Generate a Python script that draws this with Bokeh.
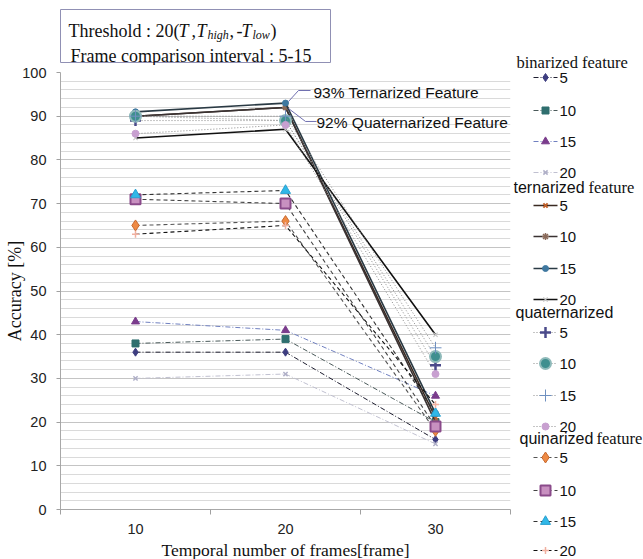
from bokeh.plotting import figure
from bokeh.models import Range1d, FixedTicker, SingleIntervalTicker, Label
from bokeh.layouts import row, column
from bokeh.embed import file_html
from bokeh.resources import INLINE
from bokeh.core.properties import value

# ---------------- data ----------------
frames = ["10", "20", "30"]
bin5 = [36, 36, 16]
bin10 = [38, 39, 20]
bin15 = [43, 41, 26]
bin20 = [30, 31, 15]
ter5 = [90, 92, 21]
ter10 = [90, 92, 20]
ter15 = [91, 93, 22]
ter20 = [85, 87, 40]
qua5 = [89, 89, 33]
qua10 = [90, 89, 35]
qua15 = [90, 90, 37]
qua20 = [86, 88, 31]
qui5 = [65, 66, 18]
qui10 = [71, 70, 19]
qui15 = [72, 73, 22]
qui20 = [63, 65, 24]
interval_labels = ["5", "10", "15", "20"]
ann_values = [93, 92]
ann_names = ["Ternarized Feature", "Quaternarized Feature"]
x_title = "Temporal number of frames[frame]"
y_title = "Accuracy [%]"

# ---------------- styles ----------------
DD = "5 2 1 2"
DOT = "1 2"
DSH = "4 3"
groups = [
    [  # binarized
        dict(y=bin5, lc="#1e1e30", lw=1, dash=DD, m="diamond", ms=8, mf="#3d3d80", ml="#3d3d80", mlw=1),
        dict(y=bin10, lc="#4a5a5a", lw=1, dash=DD, m="square", ms=7, mf="#2f6f6f", ml="#2f6f6f", mlw=1),
        dict(y=bin15, lc="#7080c0", lw=1, dash=DD, m="triangle", ms=8, mf="#7a3c8c", ml="#7a3c8c", mlw=1),
        dict(y=bin20, lc="#c0c0d0", lw=1, dash=DD, m="x", ms=6, mf="#b0b0c8", ml="#b0b0c8", mlw=1.5),
    ],
    [  # ternarized
        dict(y=ter5, lc="#3a2a22", lw=1.6, dash="solid", m="x", ms=6, mf="#c0602a", ml="#c0602a", mlw=2),
        dict(y=ter10, lc="#3a3232", lw=1.6, dash="solid", m="asterisk", ms=7, mf="#8a6a5a", ml="#8a6a5a", mlw=1.5),
        dict(y=ter15, lc="#2a3a44", lw=1.6, dash="solid", m="circle", ms=6, mf="#3f78a0", ml="#3f78a0", mlw=1),
        dict(y=ter20, lc="#111111", lw=1.6, dash="solid", m="x", ms=6, mf="#c8c8c8", ml="#c8c8c8", mlw=1.2),
    ],
    [  # quaternarized
        dict(y=qua5, lc="#8a8a8a", lw=1, dash=DOT, m="cross", ms=11, mf="#4a4a8a", ml="#4a4a8a", mlw=2.5),
        dict(y=qua10, lc="#8a8a8a", lw=1, dash=DOT, m="circle", ms=11, mf="#3f8f8f", ml="#8fbaba", mlw=2),
        dict(y=qua15, lc="#8a8a8a", lw=1, dash=DOT, m="cross", ms=12, mf="#6f90c0", ml="#6f90c0", mlw=1),
        dict(y=qua20, lc="#8a8a8a", lw=1, dash=DOT, m="circle", ms=7, mf="#c8a0d0", ml="#c8a0d0", mlw=1),
    ],
    [  # quinarized
        dict(y=qui5, lc="#555555", lw=1.1, dash=DSH, m="diamond", ms=11, mf="#ee8a44", ml="#c86a30", mlw=1),
        dict(y=qui10, lc="#444444", lw=1.1, dash=DSH, m="square", ms=10, mf="#c890c0", ml="#8a4a8a", mlw=2),
        dict(y=qui15, lc="#333333", lw=1.1, dash=DSH, m="triangle", ms=10, mf="#30b8e8", ml="#2aa0d0", mlw=1),
        dict(y=qui20, lc="#111111", lw=1.1, dash=DSH, m="cross", ms=7, mf="#f0b0a0", ml="#f0b0a0", mlw=1.5),
    ],
]

TOP_H = 65
LEFT_W = 513
TOTAL_W, TOTAL_H = 643, 559
PX_X = 150.0
PX_Y = 437.0 / 100.0


def bare(fig):
    fig.grid.visible = False
    fig.outline_line_color = None
    fig.background_fill_color = "white"
    fig.border_fill_color = "white"
    fig.frame_align = False


# ---------------- title box figure ----------------
top = figure(width=LEFT_W, height=TOP_H, x_range=Range1d(0, LEFT_W), y_range=Range1d(TOP_H, 0),
             output_backend="svg", toolbar_location=None, min_border=0,
             x_axis_location=None, y_axis_location=None)
bare(top)
top.quad(left=[60], right=[330], top=[9], bottom=[62], fill_color="white",
         line_color="#9090b4", line_width=1)


def ttext(t, x, y, size="18px", style="normal"):
    top.text(x=[x], y=[y], text=[t], text_font=value("Liberation Serif"),
             text_font_size=value(size), text_font_style=style,
             text_baseline="alphabetic", text_color="#111111")


ttext("Threshold : 20(", 68, 30)
ttext("T", 178, 30, style="italic")
ttext(",", 191, 30)
ttext("T", 196, 30, style="italic")
ttext("high", 207, 34, size="12px", style="italic")
ttext(",", 229, 30)
ttext("-", 236, 30)
ttext("T", 241, 30, style="italic")
ttext("low", 252, 34, size="12px", style="italic")
ttext(")", 270, 30)
ttext("Frame comparison interval : 5-15", 70, 55)

# ---------------- main figure ----------------
p = figure(frame_width=450, frame_height=437, x_range=Range1d(0, len(frames)), y_range=Range1d(0, 100),
           output_backend="svg", toolbar_location=None,
           min_border_left=60, min_border_right=3, min_border_top=7, min_border_bottom=50)
p.outline_line_color = None
p.background_fill_color = "white"
p.border_fill_color = "white"
p.frame_align = False

xs = [i + 0.5 for i in range(len(frames))]
p.xaxis.ticker = FixedTicker(ticks=xs, minor_ticks=list(range(len(frames) + 1)))
p.xaxis.major_label_overrides = {x: f for x, f in zip(xs, frames)}
p.xaxis.major_tick_out = 0
p.xaxis.major_tick_in = 0
p.xaxis.minor_tick_out = 5
p.xaxis.minor_tick_in = 0
p.xaxis.minor_tick_line_color = "#a0a0a0"
p.xaxis.major_label_standoff = 9
p.xaxis.axis_line_color = "#a8a8a8"
p.xaxis.major_label_text_font = "Liberation Sans"
p.xaxis.major_label_text_font_size = "14.5px"
p.xaxis.major_label_text_color = "#222222"
p.xaxis.axis_label = x_title
p.xaxis.axis_label_text_font = "Liberation Serif"
p.xaxis.axis_label_text_font_size = "17.5px"
p.xaxis.axis_label_text_font_style = "normal"
p.xaxis.axis_label_text_color = "#111111"
p.xaxis.axis_label_standoff = 3

p.yaxis.ticker = SingleIntervalTicker(interval=10, num_minor_ticks=5)
p.yaxis.major_tick_out = 4
p.yaxis.major_tick_in = 0
p.yaxis.minor_tick_line_color = None
p.yaxis.major_tick_line_color = "#a0a0a0"
p.yaxis.axis_line_color = "#a8a8a8"
p.yaxis.major_label_standoff = 10
p.yaxis.major_label_text_font = "Liberation Sans"
p.yaxis.major_label_text_font_size = "14.5px"
p.yaxis.major_label_text_color = "#222222"
p.yaxis.axis_label = y_title
p.yaxis.axis_label_text_font = "Liberation Serif"
p.yaxis.axis_label_text_font_size = "18px"
p.yaxis.axis_label_text_font_style = "normal"
p.yaxis.axis_label_text_color = "#111111"
p.yaxis.axis_label_standoff = -6

p.xgrid.visible = False
p.ygrid.grid_line_color = "#c4c4c4"
p.ygrid.minor_grid_line_color = "#dadada"

for g in groups:
    for s in g:
        p.line(xs, s["y"], line_color=s["lc"], line_width=s["lw"], line_dash=s["dash"])
        p.scatter(xs, s["y"], marker=s["m"], size=s["ms"], fill_color=s["mf"],
                  line_color=s["ml"], line_width=s["mlw"])

# callouts
callout_offsets = [
    dict(line=[(3, -1.6), (13, -12.6), (25, -12.6)], text=(28, -10.6)),
    dict(line=[(3, 1.0), (20, 14.0), (31, 14.0)], text=(31, 14.7)),
]
for v, name, c in zip(ann_values, ann_names, callout_offsets):
    lx = [xs[1] + dx / PX_X for dx, dy in c["line"]]
    ly = [v - dy / PX_Y for dx, dy in c["line"]]
    p.line(lx, ly, line_color="#6f6fb0", line_width=1)
    tx, ty = c["text"]
    p.add_layout(Label(x=xs[1], y=v, x_offset=tx, y_offset=-ty, text=f"{v}% {name}",
                       text_font="Liberation Sans", text_font_size="15.5px",
                       text_baseline="middle", text_color="#111111"))

# ---------------- legend figure ----------------
LW = TOTAL_W - LEFT_W
leg = figure(width=LW, height=TOTAL_H, x_range=Range1d(0, LW), y_range=Range1d(TOTAL_H, 0),
             output_backend="svg", toolbar_location=None, min_border=0,
             x_axis_location=None, y_axis_location=None)
bare(leg)

header_y = [62, 187, 312, 438]
entry_y = [[77, 110, 141, 172], [205, 236, 268, 299], [332, 363, 395, 426], [457, 490, 521, 550]]
sans_part = [None, "ternarized", "quaternarized", "quinarized"]
sans_x = [None, 0, 2, 6]
serif_part = ["binarized feature", "feature", None, "feature"]
serif_x = [3, 75, None, 83]

for gi, g in enumerate(groups):
    if sans_part[gi]:
        leg.text(x=[sans_x[gi]], y=[header_y[gi]], text=[sans_part[gi]],
                 text_font=value("Liberation Sans"), text_font_size=value("16px"),
                 text_baseline="middle", text_color="#111111")
    if serif_part[gi]:
        leg.text(x=[serif_x[gi]], y=[header_y[gi]], text=[serif_part[gi]],
                 text_font=value("Liberation Serif"), text_font_size=value("16.5px"),
                 text_baseline="middle", text_color="#111111")
    for si, s in enumerate(g):
        yy = entry_y[gi][si]
        leg.line([20, 44], [yy, yy], line_color=s["lc"], line_width=s["lw"], line_dash=s["dash"])
        leg.scatter([32], [yy], marker=s["m"], size=s["ms"], fill_color=s["mf"],
                    line_color=s["ml"], line_width=s["mlw"])
        leg.text(x=[46], y=[yy], text=[interval_labels[si]],
                 text_font=value("Liberation Sans"), text_font_size=value("15px"),
                 text_baseline="middle", text_color="#111111")

layout = row(column(top, p), leg)
open("out.html", "w").write(file_html(layout, INLINE))
